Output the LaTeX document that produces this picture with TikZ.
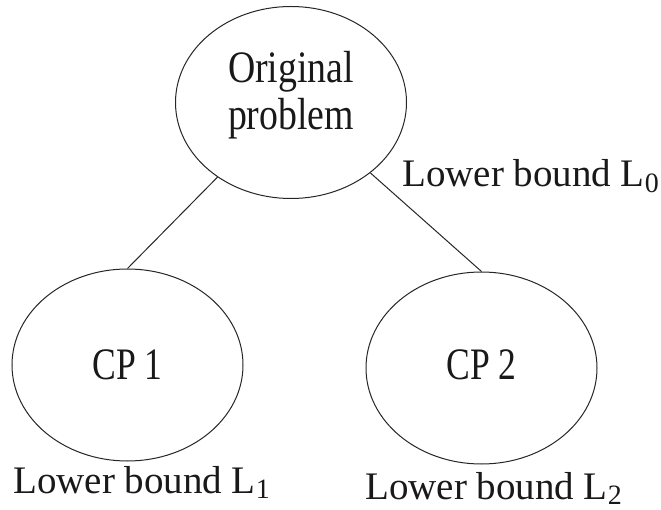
\documentclass[tikz,border=0pt]{standalone}
\usepackage{fontspec}
\usepackage{graphicx}
\setmainfont{Liberation Serif}
\usetikzlibrary{shapes.geometric}
% lowered, smaller index after "L"
\newcommand\boundidx[1]{\raisebox{-0.15em}{\fontsize{28}{28}\selectfont #1}}
\begin{document}
\begin{tikzpicture}[x=1pt,y=-1pt,
  bubble/.style={draw=black!85, line width=1pt, ellipse,
    minimum width=231pt, minimum height=192pt, inner sep=0pt},
  inlabel/.style={anchor=base, inner sep=0pt,
    font=\fontsize{45}{47}\selectfont, text=black!90},
  boundlabel/.style={anchor=base west, inner sep=0pt,
    font=\fontsize{39}{41}\selectfont, text=black!90},
  link/.style={draw=black!85, line width=1pt}]
\useasboundingbox (0,0) rectangle (661,510);

% the three problems
\node[bubble] (root) at (291,102.5) {};
\node[bubble] (cp1) at (127.5,365) {};
\node[bubble] (cp2) at (481.5,368) {};

% texts inside the ellipses
\node[inlabel] (rootA) at (291,83) {\scalebox{0.84}[1]{Original}};
\node[inlabel] (rootB) at (291,130) {\scalebox{0.84}[1]{problem}};
\node[inlabel] (cp1t) at (127.5,380) {\scalebox{0.79}[1]{CP 1}};
\node[inlabel] (cp2t) at (481.5,380) {\scalebox{0.79}[1]{CP 2}};

% lower bounds
\node[boundlabel] (lb0) at (402,187) {Lower bound L\boundidx{0}};
\node[boundlabel] (lb1) at (13,493) {Lower bound L\boundidx{1}};
\node[boundlabel] (lb2) at (365,499) {Lower bound L\boundidx{2}};

% branches
\draw[link] (root) -- (cp1.north);
\draw[link] (root) -- (cp2.north);
\end{tikzpicture}
\end{document}
